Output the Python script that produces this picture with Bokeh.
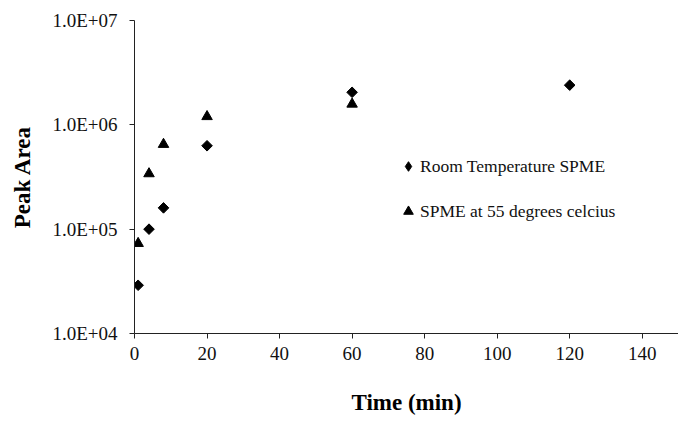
from bokeh.plotting import figure
from bokeh.models import Range1d, FixedTicker, CustomJSTickFormatter, Legend, LegendItem
from bokeh.embed import file_html
from bokeh.resources import INLINE
import math

# Data
room_time = [1, 4, 8, 20, 60, 120]
room_area = [2.9e4, 1.0e5, 1.6e5, 6.3e5, 2.05e6, 2.4e6]

hot_time = [1, 4, 8, 20, 60]
hot_area = [7.3e4, 3.4e5, 6.5e5, 1.2e6, 1.58e6]

x_ticks = [0, 20, 40, 60, 80, 100, 120, 140]
y_ticks = [1e4, 1e5, 1e6, 1e7]
y_tick_labels = ["1.0E+04", "1.0E+05", "1.0E+06", "1.0E+07"]

series_names = ["Room Temperature SPME", "SPME at 55 degrees celcius"]

FONT = "Liberation Serif"

p = figure(width=678, height=425, y_axis_type="log",
           x_range=Range1d(0, 150), y_range=Range1d(1e4, 1e7),
           output_backend="svg", toolbar_location=None,
           min_border_left=134, min_border_right=0, min_border_top=20,
           min_border_bottom=92)

p.outline_line_color = None
p.xgrid.visible = False
p.ygrid.visible = False
p.background_fill_color = "white"
p.border_fill_color = "white"

r1 = p.scatter(room_time, room_area, marker="square", size=7.5, angle=math.pi / 4,
               color="black")
r2 = p.scatter(hot_time, hot_area, marker="triangle", size=10.5, color="black")

# legend-only proxy for the diamond symbol (legend glyphs ignore marker angle)
nan = float("nan")
r1_key = p.scatter([nan], [nan], marker="diamond", size=10, color="black")

p.xaxis.ticker = FixedTicker(ticks=x_ticks)
p.yaxis.ticker = FixedTicker(ticks=y_ticks)
p.yaxis.formatter = CustomJSTickFormatter(
    args=dict(yvals=y_ticks, ylabels=y_tick_labels),
    code="""
    for (let i = 0; i < yvals.length; i++) {
        if (Math.abs(Math.log10(yvals[i]) - Math.log10(tick)) < 1e-6) return ylabels[i];
    }
    return "";
    """)

for ax in (p.xaxis[0], p.yaxis[0]):
    ax.axis_line_color = "#222222"
    ax.axis_line_width = 1
    ax.major_tick_line_color = "#222222"
    ax.major_tick_out = 5
    ax.major_tick_in = 0
    ax.minor_tick_line_color = None
    ax.major_label_text_font = FONT
    ax.major_label_text_font_size = "19px"
    ax.major_label_text_color = "#111111"
    ax.axis_label_text_font = FONT
    ax.axis_label_text_font_size = "23px"
    ax.axis_label_text_font_style = "bold"
    ax.axis_label_text_color = "#000000"

p.xaxis.axis_label = "Time (min)"
p.yaxis.axis_label = "Peak Area"
p.xaxis.major_label_standoff = 8
p.yaxis.major_label_standoff = 12
p.xaxis.axis_label_standoff = 27
p.yaxis.axis_label_standoff = 14

legend = Legend(items=[LegendItem(label=series_names[0], renderers=[r1_key]),
                       LegendItem(label=series_names[1], renderers=[r2])],
                location=(262, 110))
legend.border_line_alpha = 0
legend.background_fill_alpha = 0
legend.padding = 0
legend.margin = 0
legend.spacing = 21
legend.glyph_width = 24
legend.glyph_height = 24
legend.label_height = 20
legend.label_standoff = 0
legend.label_text_font = FONT
legend.label_text_font_size = "17.5px"
legend.label_text_color = "#111111"
p.add_layout(legend)

open("out.html", "w").write(file_html(p, INLINE))
